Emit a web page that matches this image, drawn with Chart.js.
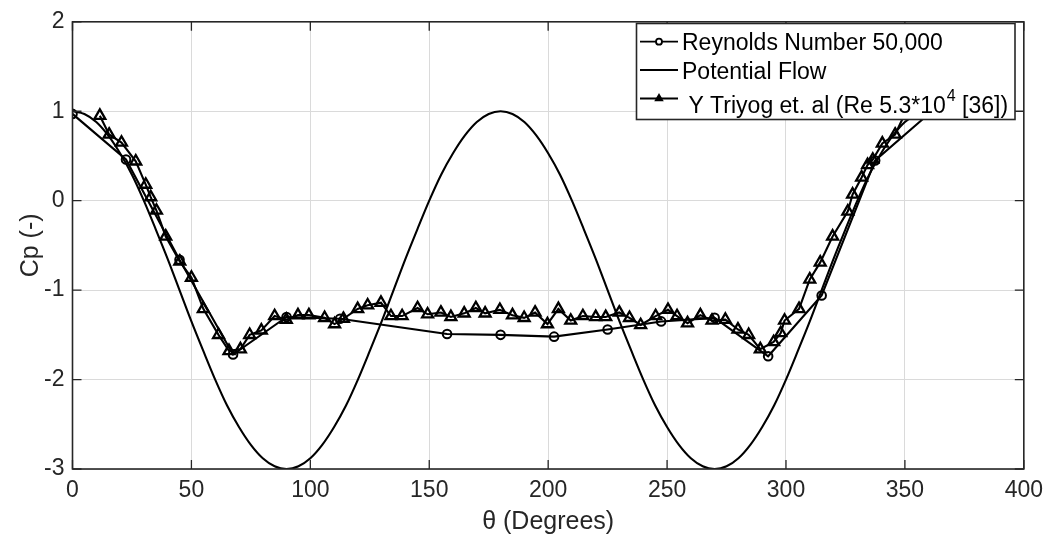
<!DOCTYPE html>
<html>
<head>
<meta charset="utf-8">
<script src="https://cdn.jsdelivr.net/npm/chart.js@4.4.1/dist/chart.umd.min.js"></script>
<style>
html,body{margin:0;padding:0;background:#fff;}
#wrap{width:1051px;height:548px;position:relative;}
</style>
</head>
<body>
<div id="wrap"><canvas id="c" width="1051" height="548"></canvas></div>
<script>
// ---------- data ----------
const xTicks = [0, 50, 100, 150, 200, 250, 300, 350, 400];
const yTicks = [-3, -2, -1, 0, 1, 2];

const reTheta = [0, 22.5, 45, 67.5, 90, 112.5, 157.5, 180, 202.5, 225, 247.5, 270, 292.5, 315, 337.5, 360];
const reCp    = [0.97, 0.46, -0.66, -1.72, -1.30, -1.32, -1.49, -1.50, -1.52, -1.44, -1.35, -1.31, -1.74, -1.06, 0.45, 0.97];

const pfTheta = [0,5,10,15,20,25,30,35,40,45,50,55,60,65,70,75,80,85,90,95,100,105,110,115,120,125,130,135,140,145,150,155,160,165,170,175,180,
                 185,190,195,200,205,210,215,220,225,230,235,240,245,250,255,260,265,270,275,280,285,290,295,300,305,310,315,320,325,330,335,340,345,350,355,360];
const pfCp    = [1.00,0.97,0.88,0.73,0.53,0.29,0.00,-0.32,-0.65,-1.00,-1.35,-1.68,-2.00,-2.29,-2.53,-2.73,-2.88,-2.97,-3.00,
                 -2.97,-2.88,-2.73,-2.53,-2.29,-2.00,-1.68,-1.35,-1.00,-0.65,-0.32,0.00,0.29,0.53,0.73,0.88,0.97,1.00,
                 0.97,0.88,0.73,0.53,0.29,0.00,-0.32,-0.65,-1.00,-1.35,-1.68,-2.00,-2.29,-2.53,-2.73,-2.88,-2.97,-3.00,
                 -2.97,-2.88,-2.73,-2.53,-2.29,-2.00,-1.68,-1.35,-1.00,-0.65,-0.32,0.00,0.29,0.53,0.73,0.88,0.97,1.00];

const tyTheta = [11.5,15.4,20.6,26.6,30.8,32.9,35.3,39.2,45.1,50.0,55.0,61.4,65.8,70.6,74.5,79.4,85.0,89.9,94.8,99.4,
                 106.0,110.2,113.9,119.9,124.1,129.7,133.9,138.6,145.1,149.3,154.9,159.1,164.7,169.6,173.5,179.7,185.0,189.9,194.5,199.7,
                 204.3,209.5,214.6,220.0,224.2,229.9,234.2,238.9,245.2,250.4,254.2,258.6,264.0,268.9,274.5,279.8,284.3,289.2,294.8,297.8,
                 299.4,305.5,310.0,314.4,319.6,326.0,328.0,331.8,334.3,336.5,340.5,345.9,350.5];
const tyCp    = [0.95,0.74,0.65,0.44,0.18,0.04,-0.11,-0.40,-0.68,-0.86,-1.21,-1.50,-1.68,-1.66,-1.50,-1.45,-1.29,-1.33,-1.28,-1.28,
                 -1.31,-1.38,-1.32,-1.21,-1.17,-1.14,-1.29,-1.29,-1.20,-1.27,-1.25,-1.30,-1.26,-1.20,-1.26,-1.22,-1.28,-1.31,-1.25,-1.38,
                 -1.21,-1.34,-1.29,-1.30,-1.30,-1.25,-1.31,-1.39,-1.29,-1.22,-1.29,-1.37,-1.28,-1.34,-1.33,-1.44,-1.50,-1.66,-1.58,-1.48,
                 -1.34,-1.21,-0.88,-0.69,-0.40,-0.12,0.07,0.26,0.40,0.46,0.64,0.74,1.00];

const legendLabels = ["Reynolds Number 50,000", "Potential Flow", " Y Triyog et. al (Re 5.3*10", "4", " [36])"];
const xTitle = "θ (Degrees)";
const yTitle = "Cp (-)";

// ---------- helpers ----------
const zip = (xs, ys) => xs.map((x, i) => ({x: x, y: ys[i]}));
const FONT = "'Liberation Sans', Arial, Helvetica, sans-serif";
const AX = '#262626';

const boxPlugin = {
  id: 'boxTicks',
  afterDraw(chart) {
    const ctx = chart.ctx, a = chart.chartArea;
    const xs = chart.scales.x, ys = chart.scales.y;
    ctx.save();
    ctx.strokeStyle = AX;
    ctx.lineWidth = 1.6;
    ctx.strokeRect(a.left, a.top, a.right - a.left, a.bottom - a.top);
    ctx.lineWidth = 1.3;
    const L = 9;
    ctx.beginPath();
    xTicks.forEach(v => {
      const px = xs.getPixelForValue(v);
      ctx.moveTo(px, a.bottom); ctx.lineTo(px, a.bottom - L);
      ctx.moveTo(px, a.top); ctx.lineTo(px, a.top + L);
    });
    yTicks.forEach(v => {
      const py = ys.getPixelForValue(v);
      ctx.moveTo(a.left, py); ctx.lineTo(a.left + L, py);
      ctx.moveTo(a.right, py); ctx.lineTo(a.right - L, py);
    });
    ctx.stroke();

    // legend
    const bx = 636.5, by = 23.5, bw = 378.5, bh = 96;
    ctx.fillStyle = '#fff';
    ctx.fillRect(bx, by, bw, bh);
    ctx.strokeStyle = AX;
    ctx.lineWidth = 1.6;
    ctx.strokeRect(bx, by, bw, bh);

    const lineY = [41.7, 70, 98.5];
    const baseY = [50, 78.5, 112.5];
    ctx.strokeStyle = '#000';
    ctx.lineWidth = 1.8;
    lineY.forEach(y => { ctx.beginPath(); ctx.moveTo(640, y); ctx.lineTo(678, y); ctx.stroke(); });
    // circle marker
    ctx.beginPath(); ctx.arc(659, lineY[0], 3, 0, Math.PI * 2); ctx.fillStyle = '#fff'; ctx.fill(); ctx.stroke();
    // triangle marker
    const tr = 5.5, tcx = 659, tcy = lineY[2];
    ctx.beginPath();
    ctx.moveTo(tcx, tcy - tr);
    ctx.lineTo(tcx + tr * 0.866, tcy + tr * 0.5);
    ctx.lineTo(tcx - tr * 0.866, tcy + tr * 0.5);
    ctx.closePath();
    ctx.fillStyle = '#000'; ctx.fill();

    ctx.fillStyle = '#000';
    ctx.textBaseline = 'alphabetic';
    ctx.textAlign = 'left';
    ctx.font = '23px ' + FONT;
    ctx.fillText(legendLabels[0], 682, baseY[0]);
    ctx.fillText(legendLabels[1], 682, baseY[1]);
    let x = 682;
    ctx.fillText(legendLabels[2], x, baseY[2]);
    x += ctx.measureText(legendLabels[2]).width + 1;
    ctx.font = '16px ' + FONT;
    ctx.fillText(legendLabels[3], x, baseY[2] - 12);
    x += ctx.measureText(legendLabels[3]).width;
    ctx.font = '23px ' + FONT;
    ctx.fillText(legendLabels[4], x, baseY[2]);
    ctx.restore();
  }
};

new Chart(document.getElementById('c'), {
  type: 'line',
  data: {
    datasets: [
      {
        label: legendLabels[0],
        data: zip(reTheta, reCp),
        borderColor: '#000', borderWidth: 2.1,
        pointStyle: 'circle', pointRadius: 4.3, pointBorderWidth: 2,
        pointBorderColor: '#000', pointBackgroundColor: 'rgba(0,0,0,0)',
        tension: 0, order: 1
      },
      {
        label: legendLabels[1],
        data: zip(pfTheta, pfCp),
        borderColor: '#000', borderWidth: 2.1,
        pointRadius: 0, cubicInterpolationMode: 'monotone', order: 2
      },
      {
        label: 'Y Triyog et. al (Re 5.3*10^4 [36])',
        data: zip(tyTheta, tyCp),
        borderColor: '#000', borderWidth: 2.1,
        pointStyle: 'triangle', pointRadius: 6.3, pointBorderWidth: 2.3,
        pointBorderColor: '#000', pointBackgroundColor: 'rgba(0,0,0,0)',
        tension: 0, order: 0
      }
    ]
  },
  options: {
    responsive: false,
    animation: false,
    layout: { padding: { top: 14, right: 25.5, left: 0, bottom: 0 } },
    plugins: { legend: { display: false }, tooltip: { enabled: false } },
    scales: {
      x: {
        type: 'linear', min: 0, max: 400,
        afterBuildTicks: s => { s.ticks = xTicks.map(v => ({value: v})); },
        afterFit: s => { s.height = 79; },
        grid: { color: '#dadada', lineWidth: 1, drawTicks: false },
        border: { display: false },
        ticks: { color: AX, padding: 8, font: { family: FONT, size: 23 }, maxRotation: 0 },
        title: { display: true, text: xTitle, color: AX, font: { family: FONT, size: 25 }, padding: { top: 0, bottom: 11 } }
      },
      y: {
        type: 'linear', min: -3, max: 2,
        afterBuildTicks: s => { s.ticks = yTicks.map(v => ({value: v})); },
        afterFit: s => { s.width = 72.5; },
        grid: { color: '#dadada', lineWidth: 1, drawTicks: false },
        border: { display: false },
        ticks: { color: AX, padding: 8, font: { family: FONT, size: 23 } },
        title: { display: true, text: yTitle, color: AX, font: { family: FONT, size: 25 }, padding: { top: 16, bottom: 0 } }
      }
    }
  },
  plugins: [boxPlugin]
});
</script>
</body>
</html>
